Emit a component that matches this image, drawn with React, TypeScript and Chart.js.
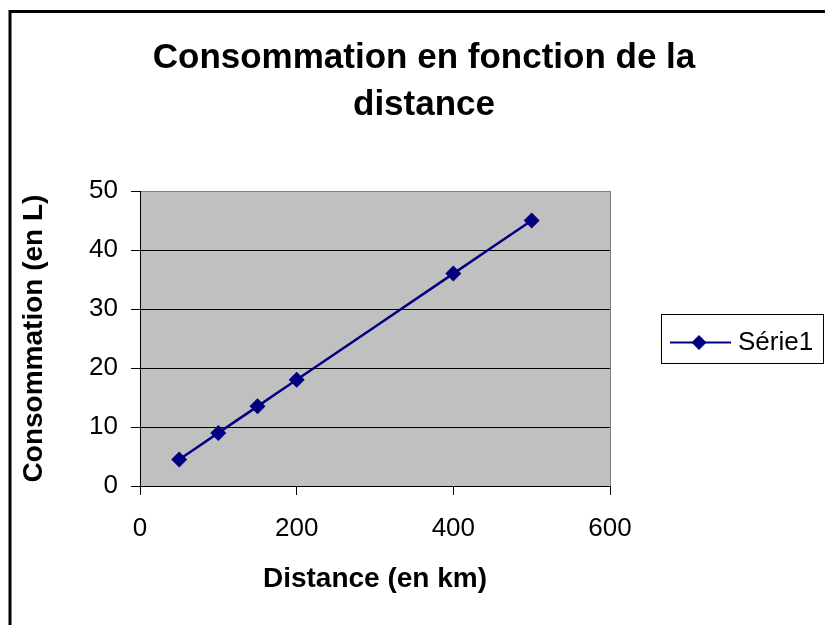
import React, { useEffect, useRef } from "react";
import { Chart, registerables } from "chart.js";

Chart.register(...registerables);

const titleLines = ["Consommation en fonction de la", "distance"];
const xAxisTitle = "Distance (en km)";
const yAxisTitle = "Consommation (en L)";
const seriesName = "Série1";
const distances = [50, 100, 150, 200, 400, 500];
const consumption = [4.5, 9, 13.5, 18, 36, 45];

const FONT = "'Liberation Sans', Arial, sans-serif";
const NAVY = "#000080";

const decorPlugin = {
  id: "decor",
  beforeDraw(chart: any) {
    const { ctx, chartArea } = chart;
    ctx.save();
    ctx.fillStyle = "#ffffff";
    ctx.fillRect(0, 0, chart.width, chart.height);
    ctx.fillStyle = "#C0C0C0";
    ctx.fillRect(chartArea.left, chartArea.top, chartArea.right - chartArea.left, chartArea.bottom - chartArea.top);
    ctx.restore();
  },
  afterDraw(chart: any) {
    const { ctx, chartArea } = chart;
    ctx.save();
    ctx.strokeStyle = "#808080";
    ctx.lineWidth = 1;
    ctx.beginPath();
    ctx.moveTo(Math.round(chartArea.right) + 0.5, chartArea.top);
    ctx.lineTo(Math.round(chartArea.right) + 0.5, chartArea.bottom);
    ctx.stroke();

    ctx.strokeStyle = "#000000";
    ctx.lineWidth = 3;
    ctx.beginPath();
    ctx.moveTo(10, chart.height + 5);
    ctx.lineTo(10, 11.5);
    ctx.lineTo(chart.width + 5, 11.5);
    ctx.stroke();

    ctx.fillStyle = "#000000";
    ctx.font = `bold 35px ${FONT}`;
    ctx.textAlign = "center";
    ctx.textBaseline = "middle";
    ctx.fillText(titleLines[0], 424, 58);
    ctx.fillText(titleLines[1], 424, 105);

    ctx.strokeStyle = "#000000";
    ctx.lineWidth = 1;
    ctx.strokeRect(661.5, 314.5, 162, 49);
    const ly = 342.5;
    ctx.strokeStyle = NAVY;
    ctx.lineWidth = 2;
    ctx.beginPath();
    ctx.moveTo(670, ly);
    ctx.lineTo(731, ly);
    ctx.stroke();
    ctx.fillStyle = NAVY;
    ctx.beginPath();
    ctx.moveTo(699, ly - 7.5);
    ctx.lineTo(706.5, ly);
    ctx.lineTo(699, ly + 7.5);
    ctx.lineTo(691.5, ly);
    ctx.closePath();
    ctx.fill();
    ctx.fillStyle = "#000000";
    ctx.font = `26px ${FONT}`;
    ctx.textAlign = "left";
    ctx.textBaseline = "middle";
    ctx.fillText(seriesName, 738, ly);
    ctx.restore();
  },
};

export default function App() {
  const ref = useRef<HTMLCanvasElement | null>(null);

  useEffect(() => {
    if (!ref.current) return;
    const chart = new Chart(ref.current, {
      type: "line",
      data: {
        datasets: [
          {
            label: seriesName,
            data: distances.map((d, i) => ({ x: d, y: consumption[i] })),
            borderColor: NAVY,
            backgroundColor: NAVY,
            borderWidth: 2.5,
            pointStyle: "rectRot",
            pointRadius: 8,
            pointBackgroundColor: NAVY,
            pointBorderColor: NAVY,
            pointBorderWidth: 0,
            tension: 0.2,
          },
        ],
      },
      options: {
        animation: false,
        responsive: false,
        events: [],
        layout: { padding: { top: 191, right: 215, left: 0, bottom: 0 } },
        plugins: {
          legend: { display: false },
          title: { display: false },
          tooltip: { enabled: false },
        },
        scales: {
          x: {
            type: "linear",
            min: 0,
            max: 600,
            afterFit: (s: any) => {
              s.height = 139;
            },
            ticks: {
              stepSize: 200,
              color: "#000",
              font: { family: FONT, size: 26 },
              padding: 18,
            },
            grid: {
              display: true,
              drawOnChartArea: false,
              drawTicks: true,
              tickLength: 9,
              tickColor: "#000",
              color: "#000",
            },
            border: { display: true, color: "#000", width: 1 },
            title: {
              display: true,
              text: xAxisTitle,
              color: "#000",
              font: { family: FONT, size: 28, weight: "bold" },
              padding: { top: 0, bottom: 29 },
            },
          },
          y: {
            type: "linear",
            min: 0,
            max: 50,
            afterFit: (s: any) => {
              s.width = 140;
            },
            ticks: {
              stepSize: 10,
              color: "#000",
              font: { family: FONT, size: 26 },
              padding: 13,
            },
            grid: {
              color: (c: any) => (c.tick && c.tick.value === 50 ? "#808080" : "#000"),
              tickColor: "#000",
              tickLength: 9,
              lineWidth: 1,
            },
            border: { display: true, color: "#000", width: 1 },
            title: {
              display: true,
              text: yAxisTitle,
              color: "#000",
              font: { family: FONT, size: 28, weight: "bold" },
              padding: { top: 17, bottom: 0 },
            },
          },
        },
      },
      plugins: [decorPlugin],
    });
    return () => chart.destroy();
  }, []);

  return (
    <div style={{ position: "absolute", left: 0, top: 0, width: 825, height: 625 }}>
      <canvas ref={ref} width={825} height={625} style={{ display: "block", width: 825, height: 625 }} />
    </div>
  );
}
